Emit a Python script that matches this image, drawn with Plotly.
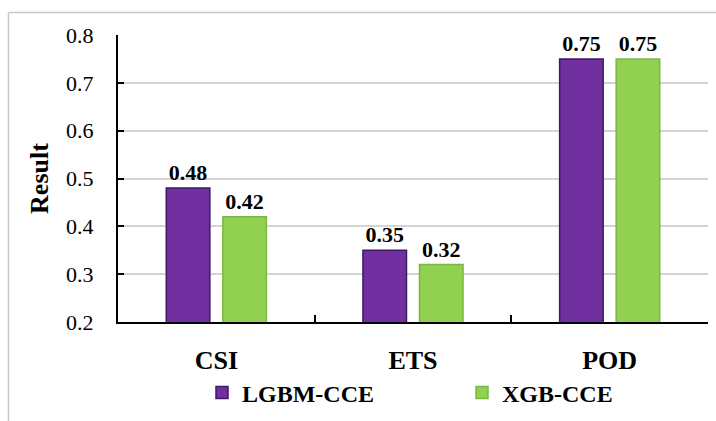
import plotly.graph_objects as go

# Metric scores per model
categories = ["CSI", "ETS", "POD"]
lgbm_cce = [0.48, 0.35, 0.75]
xgb_cce = [0.42, 0.32, 0.75]
y_ticks = [0.2, 0.3, 0.4, 0.5, 0.6, 0.7, 0.8]

W, H = 716, 421
L, R, T, B = 118, 8, 35, 99
SERIF = "Liberation Serif, Times New Roman, serif"

fig = go.Figure()
fig.add_bar(
    x=categories, y=lgbm_cce, name="LGBM-CCE",
    marker=dict(color="#7030a0", line=dict(color="#3d1a63", width=1.5)),
    text=[f"{v:.2f}" for v in lgbm_cce], textposition="outside",
    textfont=dict(family=SERIF, size=22, color="black", weight="bold"),
    constraintext="none", cliponaxis=False,
)
fig.add_bar(
    x=categories, y=xgb_cce, name="XGB-CCE",
    marker=dict(color="#92d050", line=dict(color="#7ab844", width=1.5)),
    text=[f"{v:.2f}" for v in xgb_cce], textposition="outside",
    textfont=dict(family=SERIF, size=22, color="black", weight="bold"),
    constraintext="none", cliponaxis=False,
)

# outer frame (top and left edges of the chart box)
pw, ph = W - L - R, H - T - B
def px_to_paper_x(px):
    return (px - L) / pw
def px_to_paper_y(py):
    return (H - B - py) / ph

frame_color = "#c8c8c8"
fig.add_shape(type="line", xref="paper", yref="paper",
              x0=px_to_paper_x(8.5), x1=px_to_paper_x(W + 2),
              y0=px_to_paper_y(12.5), y1=px_to_paper_y(12.5),
              line=dict(color=frame_color, width=1.5))
fig.add_shape(type="line", xref="paper", yref="paper",
              x0=px_to_paper_x(8.5), x1=px_to_paper_x(8.5),
              y0=px_to_paper_y(12.5), y1=px_to_paper_y(H + 2),
              line=dict(color=frame_color, width=1.5))

fig.update_layout(
    width=W, height=H,
    margin=dict(l=L, r=R, t=T, b=B, autoexpand=False),
    paper_bgcolor="white", plot_bgcolor="white",
    barmode="group", bargap=0.425, bargroupgap=0.23,
    font=dict(family=SERIF, color="black"),
    showlegend=True,
    legend=dict(
        orientation="h", xref="container", yref="container",
        x=202 / W, xanchor="left", y=1 - 393 / H, yanchor="middle",
        font=dict(family=SERIF, size=24, color="black", weight="bold"),
        entrywidth=215, entrywidthmode="pixels",
        bgcolor="rgba(0,0,0,0)",
    ),
    xaxis=dict(
        showline=True, linecolor="black", linewidth=2,
        ticks="inside", tickson="boundaries", ticklen=7, tickwidth=2, tickcolor="black",
        tickfont=dict(family=SERIF, size=26, color="black", weight="bold"),
        ticklabelstandoff=14,
        showgrid=False,
    ),
    yaxis=dict(
        range=[0.2, 0.8], tickvals=y_ticks, tickformat=".1f",
        showline=True, linecolor="black", linewidth=2,
        ticks="inside", ticklen=6, tickwidth=2, tickcolor="black",
        tickfont=dict(family=SERIF, size=22, color="black"),
        ticklabelstandoff=18,
        showgrid=True, gridcolor="#d4d4d4", gridwidth=1.5,
        zeroline=False,
        title=dict(text="Result", standoff=10,
                   font=dict(family=SERIF, size=26, color="black", weight="bold")),
    ),
)

fig.write_html("out.html")
